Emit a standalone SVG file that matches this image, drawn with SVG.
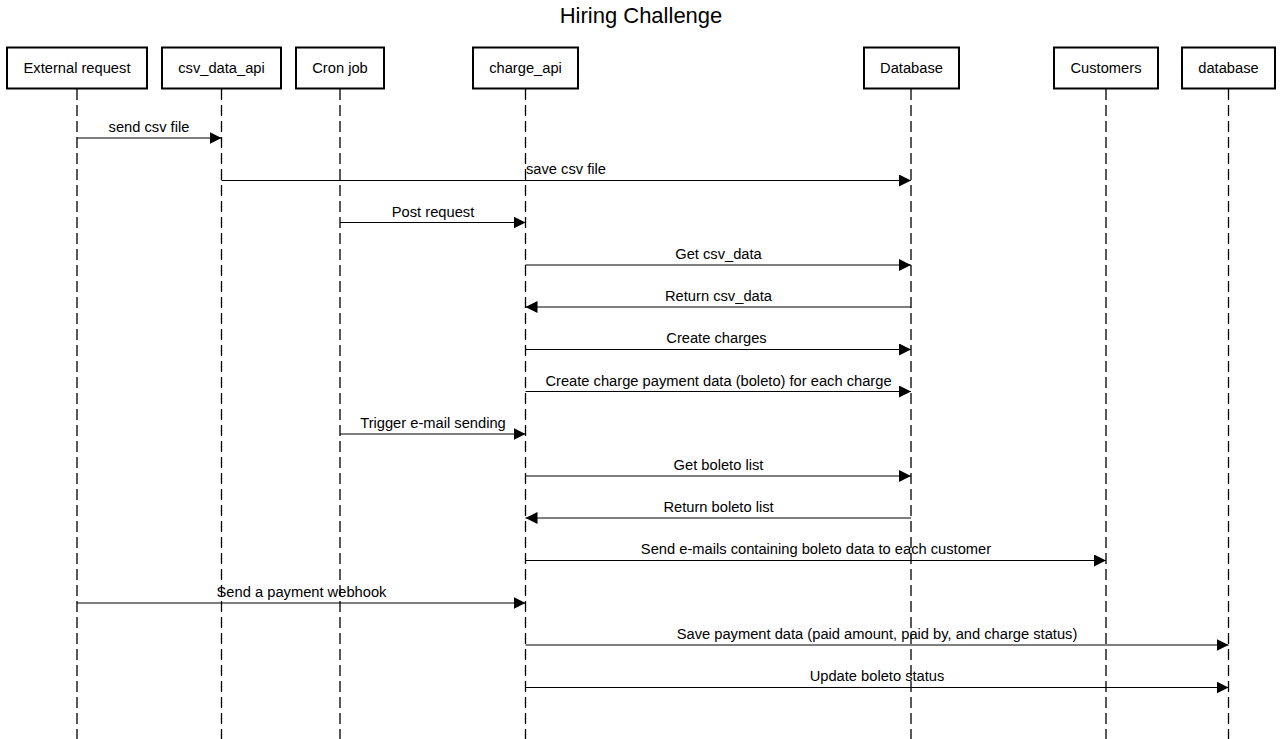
<svg xmlns="http://www.w3.org/2000/svg" width="1282" height="739" viewBox="0 0 1282 739">
<style>
.actor rect{fill:#fff;stroke:#000;stroke-width:2}
.actor text,.msg text{font-family:"Liberation Sans",Arial,sans-serif;font-size:14.7px;text-anchor:middle;fill:#000}
.life{stroke:#000;stroke-width:1.3;stroke-dasharray:11,5;fill:none}
.msg line{stroke:#000;stroke-width:1.2}
.title{font-family:"Liberation Sans",Arial,sans-serif;font-size:22px;text-anchor:middle;fill:#000}
</style>
<defs>
<marker id="ah" viewBox="0 0 12 12" refX="12" refY="6" markerWidth="12" markerHeight="12" markerUnits="userSpaceOnUse" orient="auto">
<path d="M0,0 L12,6 L0,12 z" fill="#000"/>
</marker>
</defs>
<rect width="1282" height="739" fill="#fff"/>
<text class="title" x="641" y="23">Hiring Challenge</text>
<g id="lifelines">
<line class="life" x1="77" y1="89" x2="77" y2="739"/>
<line class="life" x1="221.5" y1="89" x2="221.5" y2="739"/>
<line class="life" x1="340" y1="89" x2="340" y2="739"/>
<line class="life" x1="525.5" y1="89" x2="525.5" y2="739"/>
<line class="life" x1="911" y1="89" x2="911" y2="739"/>
<line class="life" x1="1106" y1="89" x2="1106" y2="739"/>
<line class="life" x1="1228.5" y1="89" x2="1228.5" y2="739"/>
</g>
<g id="external_request" class="actor"><rect x="7" y="47.5" width="140" height="41"/><text x="77" y="73">External request</text></g>
<g id="csv_data_api" class="actor"><rect x="162" y="47.5" width="119" height="41"/><text x="221.5" y="73">csv_data_api</text></g>
<g id="cron_job" class="actor"><rect x="296" y="47.5" width="88" height="41"/><text x="340" y="73">Cron job</text></g>
<g id="charge_api" class="actor"><rect x="473" y="47.5" width="105" height="41"/><text x="525.5" y="73">charge_api</text></g>
<g id="Database" class="actor"><rect x="864" y="47.5" width="95" height="41"/><text x="911.5" y="73">Database</text></g>
<g id="customers" class="actor"><rect x="1054" y="47.5" width="104" height="41"/><text x="1106" y="73">Customers</text></g>
<g id="database_lower" class="actor"><rect x="1182" y="47.5" width="93" height="41"/><text x="1228.5" y="73">database</text></g>
<g id="connectors" class="msg">
<line x1="77" y1="138" x2="221.5" y2="138" marker-end="url(#ah)"/><text x="149" y="132">send csv file</text>
<line x1="221.5" y1="180.5" x2="911" y2="180.5" marker-end="url(#ah)"/><text x="566" y="174">save csv file</text>
<line x1="340" y1="222.5" x2="525.5" y2="222.5" marker-end="url(#ah)"/><text x="433" y="217">Post request</text>
<line x1="525.5" y1="265" x2="911" y2="265" marker-end="url(#ah)"/><text x="718.5" y="259">Get csv_data</text>
<line x1="911" y1="307" x2="525.5" y2="307" marker-end="url(#ah)"/><text x="718.5" y="301">Return csv_data</text>
<line x1="525.5" y1="349.5" x2="911" y2="349.5" marker-end="url(#ah)"/><text x="716.5" y="343">Create charges</text>
<line x1="525.5" y1="391.5" x2="911" y2="391.5" marker-end="url(#ah)"/><text x="718.5" y="386">Create charge payment data (boleto) for each charge</text>
<line x1="340" y1="434" x2="525.5" y2="434" marker-end="url(#ah)"/><text x="433" y="428">Trigger e-mail sending</text>
<line x1="525.5" y1="476" x2="911" y2="476" marker-end="url(#ah)"/><text x="718.5" y="470">Get boleto list</text>
<line x1="911" y1="518" x2="525.5" y2="518" marker-end="url(#ah)"/><text x="718.5" y="512">Return boleto list</text>
<line x1="525.5" y1="560.5" x2="1106" y2="560.5" marker-end="url(#ah)"/><text x="816" y="554">Send e-mails containing boleto data to each customer</text>
<line x1="77" y1="603" x2="525.5" y2="603" marker-end="url(#ah)"/><text x="301.5" y="597">Send a payment webhook</text>
<line x1="525.5" y1="645" x2="1228.5" y2="645" marker-end="url(#ah)"/><text x="877" y="639">Save payment data (paid amount, paid by, and charge status)</text>
<line x1="525.5" y1="687.5" x2="1228.5" y2="687.5" marker-end="url(#ah)"/><text x="877" y="681">Update boleto status</text>
</g>
</svg>
